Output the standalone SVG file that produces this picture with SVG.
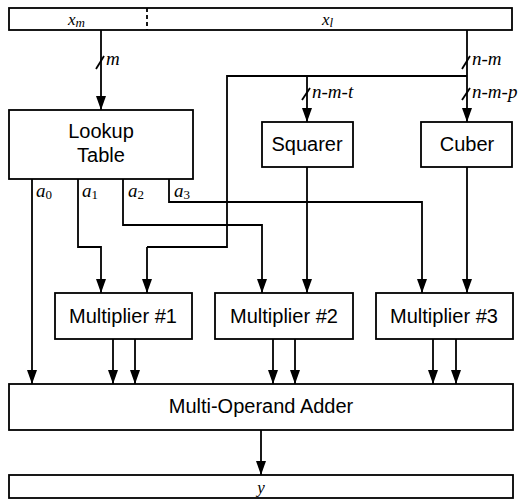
<svg xmlns="http://www.w3.org/2000/svg" width="520" height="501" viewBox="0 0 520 501">
<defs>
<marker id="arr" viewBox="0 0 14 10" refX="14" refY="5" markerWidth="14" markerHeight="10" markerUnits="userSpaceOnUse" orient="auto">
<path d="M0,0 L14,5 L0,10 z" fill="#000"/>
</marker>
<style>
.box{fill:#fff;stroke:#000;stroke-width:1.8}
.w{fill:none;stroke:#000;stroke-width:1.8}
.a{fill:none;stroke:#000;stroke-width:1.8;marker-end:url(#arr)}
.t{font-family:"Liberation Sans",Arial,sans-serif;font-size:20px;text-anchor:middle;fill:#000}
.i{font-family:"Liberation Serif","Times New Roman",serif;font-style:italic;font-size:19px;fill:#000}
.h{font-size:17px}
.s{font-size:13px;font-style:normal}
.si{font-size:13px}
</style>
</defs>
<g id="input">
<rect class="box" x="9" y="8" width="503" height="22"/>
<line x1="147" y1="8" x2="147" y2="30" stroke="#000" stroke-width="1.8" stroke-dasharray="4,3"/>
<text class="i h" x="68" y="25">x<tspan class="si" dy="2">m</tspan></text>
<text class="i h" x="322" y="25">x<tspan class="si" dy="2">l</tspan></text>
</g>
<g id="lut">
<rect class="box" x="9" y="110" width="184" height="69"/>
<text class="t" x="101" y="138">Lookup</text>
<text class="t" x="101" y="162">Table</text>
</g>
<g id="squarer">
<rect class="box" x="262" y="122" width="91" height="45"/>
<text class="t" x="307" y="151">Squarer</text>
</g>
<g id="cuber">
<rect class="box" x="421" y="122" width="91" height="45"/>
<text class="t" x="467" y="151">Cuber</text>
</g>
<g id="mult1">
<rect class="box" x="55" y="293" width="137" height="46"/>
<text class="t" x="123" y="323">Multiplier #1</text>
</g>
<g id="mult2">
<rect class="box" x="215" y="293" width="138" height="46"/>
<text class="t" x="284" y="323">Multiplier #2</text>
</g>
<g id="mult3">
<rect class="box" x="376" y="293" width="137" height="46"/>
<text class="t" x="444" y="323">Multiplier #3</text>
</g>
<g id="adder">
<rect class="box" x="9" y="384" width="504" height="46"/>
<text class="t" x="261" y="413">Multi-Operand Adder</text>
</g>
<g id="output">
<rect class="box" x="9" y="475" width="504" height="23"/>
<text class="i h" x="261" y="493" text-anchor="middle">y</text>
</g>
<g id="connectors">
<line class="a" x1="101" y1="30" x2="101" y2="110"/>
<line class="w" x1="96" y1="69" x2="104" y2="56"/>
<text class="i" x="106" y="65">m</text>
<line class="a" x1="467" y1="30" x2="467" y2="122"/>
<line class="w" x1="462" y1="69" x2="470" y2="56"/>
<text class="i" x="472" y="65">n-m</text>
<polyline class="w" points="467,76 227,76 227,247 147,247"/>
<line class="a" x1="147" y1="247" x2="147" y2="293"/>
<line class="a" x1="307" y1="76" x2="307" y2="122"/>
<line class="w" x1="302" y1="100" x2="310" y2="88"/>
<text class="i" x="312" y="98">n-m-t</text>
<line class="w" x1="462" y1="100" x2="470" y2="88"/>
<text class="i" x="472" y="98">n-m-p</text>
<line class="a" x1="32" y1="179" x2="32" y2="384"/>
<text class="i" x="36" y="197">a<tspan class="s" dy="2">0</tspan></text>
<polyline class="a" points="78,179 78,247 101,247 101,293"/>
<text class="i" x="82" y="197">a<tspan class="s" dy="2">1</tspan></text>
<polyline class="a" points="123,179 123,225 262,225 262,293"/>
<text class="i" x="128" y="197">a<tspan class="s" dy="2">2</tspan></text>
<polyline class="a" points="169,179 169,202 422,202 422,293"/>
<text class="i" x="174" y="197">a<tspan class="s" dy="2">3</tspan></text>
<line class="a" x1="307" y1="167" x2="307" y2="293"/>
<line class="a" x1="467" y1="167" x2="467" y2="293"/>
<line class="a" x1="113" y1="339" x2="113" y2="384"/>
<line class="a" x1="135" y1="339" x2="135" y2="384"/>
<line class="a" x1="273" y1="339" x2="273" y2="384"/>
<line class="a" x1="295" y1="339" x2="295" y2="384"/>
<line class="a" x1="433" y1="339" x2="433" y2="384"/>
<line class="a" x1="456" y1="339" x2="456" y2="384"/>
<line class="a" x1="261" y1="430" x2="261" y2="475"/>
</g>
</svg>
